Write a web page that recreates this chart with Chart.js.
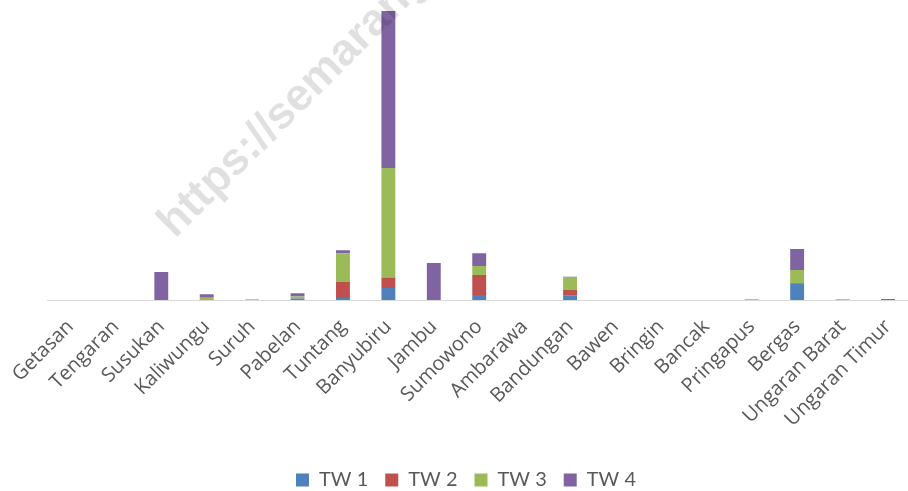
<!DOCTYPE html>
<html>
<head>
<meta charset="utf-8">
<script src="https://cdn.jsdelivr.net/npm/chart.js@4/dist/chart.umd.min.js"></script>
<style>
  html, body { margin: 0; padding: 0; background: #ffffff; overflow: hidden; }
  #wrap { position: relative; width: 920px; height: 491px; }
</style>
</head>
<body>
<div id="wrap"><canvas id="c" width="920" height="491"></canvas></div>
<script>
// Kecamatan (districts)
const kecamatan = [
  'Getasan', 'Tengaran', 'Susukan', 'Kaliwungu', 'Suruh', 'Pabelan',
  'Tuntang', 'Banyubiru', 'Jambu', 'Sumowono', 'Ambarawa', 'Bandungan',
  'Bawen', 'Bringin', 'Bancak', 'Pringapus', 'Bergas', 'Ungaran Barat',
  'Ungaran Timur'
];

// Quarterly values (triwulan)
const tw1 = [0, 0, 0, 0.5, 0.3, 1.5, 2, 12, 0, 5, 0, 4.3, 0, 0, 0, 0, 16, 0, 0];
const tw2 = [0, 0, 0, 0.3, 0, 0, 16, 10.5, 0, 20, 0, 5.7, 0, 0, 0, 0, 0.7, 0, 0];
const tw3 = [0, 0, 0, 1.5, 0, 2, 29, 110, 0, 9, 0, 13, 0, 0, 0, 0, 13.5, 0, 0];
const tw4 = [0, 0, 28, 3.5, 0.3, 3.3, 3, 157.5, 37, 13, 0, 0.3, 0, 0, 0, 0.6, 21, 0.5, 1];

const seriesNames = ['TW 1', 'TW 2', 'TW 3', 'TW 4'];
const seriesColors = ['#4f81bd', '#c0504d', '#9bbb59', '#8064a2'];

const yMax = 300;

// Diagonal site stamp drawn over the plot
const stampPlugin = {
  id: 'stamp',
  afterDraw(chart) {
    const ctx = chart.ctx;
    ctx.save();
    ctx.translate(175, 239);
    ctx.rotate(-Math.PI / 4);
    ctx.font = 'bold 45px "Liberation Sans", Arial, sans-serif';
    ctx.fillStyle = 'rgba(0,0,0,0.12)';
    ctx.textBaseline = 'alphabetic';
    ctx.fillText('https://semarangkab.bps.go.id', 0, 0);
    ctx.restore();
  }
};

// Centre the legend on the visible page rather than the wider plot box
const legendShift = {
  id: 'legendShift',
  afterLayout(chart) {
    const lg = chart.legend;
    if (lg) { lg.left -= 13; lg.right -= 13; }
  }
};

const data = {
  labels: kecamatan,
  datasets: [tw1, tw2, tw3, tw4].map((vals, i) => ({
    label: seriesNames[i],
    data: vals,
    backgroundColor: seriesColors[i],
    borderWidth: 0,
    barPercentage: 0.306,
    categoryPercentage: 1.0
  }))
};

new Chart(document.getElementById('c'), {
  type: 'bar',
  data,
  plugins: [stampPlugin, legendShift],
  options: {
    responsive: false,
    animation: false,
    layout: { padding: { left: 44, right: 6, top: 1, bottom: -9 } },
    plugins: {
      tooltip: { enabled: false },
      legend: {
        position: 'bottom',
        labels: {
          boxWidth: 13,
          boxHeight: 13,
          padding: 17,
          color: '#595959',
          font: { family: 'Lato, "Open Sans", sans-serif', size: 20 }
        }
      }
    },
    scales: {
      x: {
        stacked: true,
        grid: { display: false, drawTicks: false },
        border: { display: true, color: '#d9d9d9', width: 1 },
        afterFit(scale) { scale.height = 153; },
        ticks: {
          minRotation: 45,
          maxRotation: 45,
          autoSkip: false,
          padding: 15,
          color: '#595959',
          font: { family: '"Open Sans", sans-serif', size: 20 }
        }
      },
      y: {
        stacked: true,
        display: false,
        min: 0,
        max: yMax
      }
    }
  }
});
</script>
</body>
</html>
